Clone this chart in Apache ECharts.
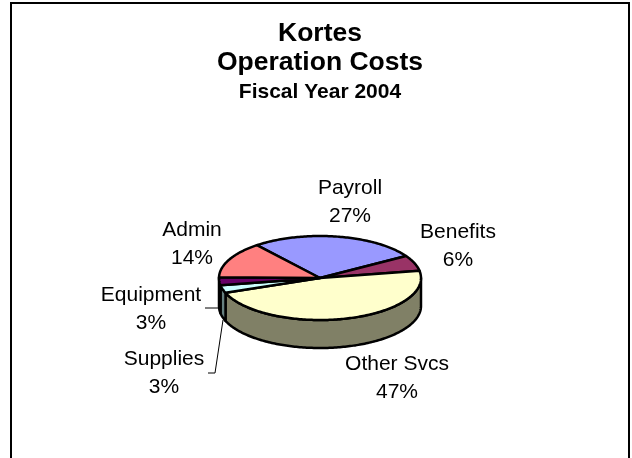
<!DOCTYPE html>
<html>
<head>
    <meta charset="utf-8">
    <title>Kortes Operation Costs</title>
    <script src="https://cdn.jsdelivr.net/npm/echarts@6/dist/echarts.min.js"></script>
    <style>
        html, body { margin: 0; padding: 0; background: #fff; }
        #main { width: 632px; height: 458px; }
    </style>
</head>
<body>
<div id="main"></div>
<script>
    // clockwise from the Payroll edge
    var categories = ['Payroll', 'Benefits', 'Other Svcs', 'Supplies', 'Equipment', 'Admin'];
    var costShare = [27, 6, 47, 3, 3, 14];
    var topColors = ['#9999FF', '#993366', '#FFFFCC', '#CCFFFF', '#660066', '#FF8080'];
    var sideColors = ['#4D4D80', '#4D1A33', '#808066', '#668080', '#330033', '#804040'];
    var labelSpots = [[350, 202], [458, 246], [397, 378], [164, 373], [151, 309], [192, 244]];

    var FONT = '"Liberation Sans", Arial, sans-serif';
    var cx = 320, cy = 278, rx = 101, ry = 42, depth = 28;
    var startDeg = -38.7;

    var total = costShare.reduce(function (a, b) { return a + b; }, 0);

    // deg is clockwise from 12 o'clock
    function rim(deg, drop) {
        var r = deg * Math.PI / 180;
        return [cx + rx * Math.sin(r), cy - ry * Math.cos(r) + (drop || 0)];
    }

    function arcPoints(from, to, drop) {
        var pts = [];
        var n = Math.max(2, Math.ceil(Math.abs(to - from)));
        for (var i = 0; i <= n; i++) {
            pts.push(rim(from + (to - from) * i / n, drop));
        }
        return pts;
    }

    function sliceRange(idx) {
        var before = 0;
        for (var i = 0; i < idx; i++) before += costShare[i];
        return [startDeg + before / total * 360, startDeg + (before + costShare[idx]) / total * 360];
    }

    function renderWall(params, api) {
        var range = sliceRange(params.dataIndex);
        // only the front half of the rim shows a wall
        var from = Math.max(range[0], 90), to = Math.min(range[1], 270);
        if (from >= to) return { type: 'group', children: [] };
        var pts = arcPoints(from, to, 0).concat(arcPoints(to, from, depth));
        return {
            type: 'polygon',
            shape: { points: pts },
            style: { fill: sideColors[params.dataIndex], stroke: '#000', lineWidth: 2.5, lineJoin: 'round' }
        };
    }

    function renderTop(params, api) {
        var range = sliceRange(params.dataIndex);
        var pts = [[cx, cy]].concat(arcPoints(range[0], range[1], 0));
        return {
            type: 'polygon',
            shape: { points: pts },
            style: { fill: topColors[params.dataIndex], stroke: '#000', lineWidth: 2.5, lineJoin: 'round' }
        };
    }

    function renderLabel(params, api) {
        var i = params.dataIndex;
        return {
            type: 'text',
            x: labelSpots[i][0],
            y: labelSpots[i][1],
            style: {
                text: categories[i] + '\n' + Math.round(api.value(1) / total * 100) + '%',
                font: '21px ' + FONT,
                lineHeight: 28,
                fill: '#000',
                align: 'center',
                verticalAlign: 'middle'
            }
        };
    }

    var seriesData = categories.map(function (c, i) { return [c, costShare[i]]; });

    var chart = echarts.init(document.getElementById('main'));
    chart.setOption({
        animation: false,
        backgroundColor: '#fff',
        title: [
            { text: 'Kortes', left: 315, top: 15, textAlign: 'center', textStyle: { fontFamily: FONT, fontSize: 26.5, fontWeight: 'bold', color: '#000' } },
            { text: 'Operation Costs', left: 315, top: 44, textAlign: 'center', textStyle: { fontFamily: FONT, fontSize: 26.5, fontWeight: 'bold', color: '#000' } },
            { text: 'Fiscal Year 2004', left: 315, top: 77, textAlign: 'center', textStyle: { fontFamily: FONT, fontSize: 21, fontWeight: 'bold', color: '#000' } }
        ],
        graphic: [
            { type: 'polyline', shape: { points: [[11, 458], [11, 3], [629, 3], [629, 458]] }, style: { fill: null, stroke: '#000', lineWidth: 2 } },
            { type: 'polyline', z: 10, shape: { points: [[205, 308], [218, 308]] }, style: { fill: null, stroke: '#000', lineWidth: 1 } },
            { type: 'polyline', z: 10, shape: { points: [[208, 373], [215, 373], [223, 320]] }, style: { fill: null, stroke: '#000', lineWidth: 1 } }
        ],
        series: [
            { type: 'custom', coordinateSystem: 'none', z: 2, silent: true, data: seriesData, renderItem: renderWall },
            { type: 'custom', coordinateSystem: 'none', z: 3, silent: true, data: seriesData, renderItem: renderTop },
            { type: 'custom', coordinateSystem: 'none', z: 4, silent: true, data: seriesData, renderItem: renderLabel }
        ]
    });
</script>
</body>
</html>
